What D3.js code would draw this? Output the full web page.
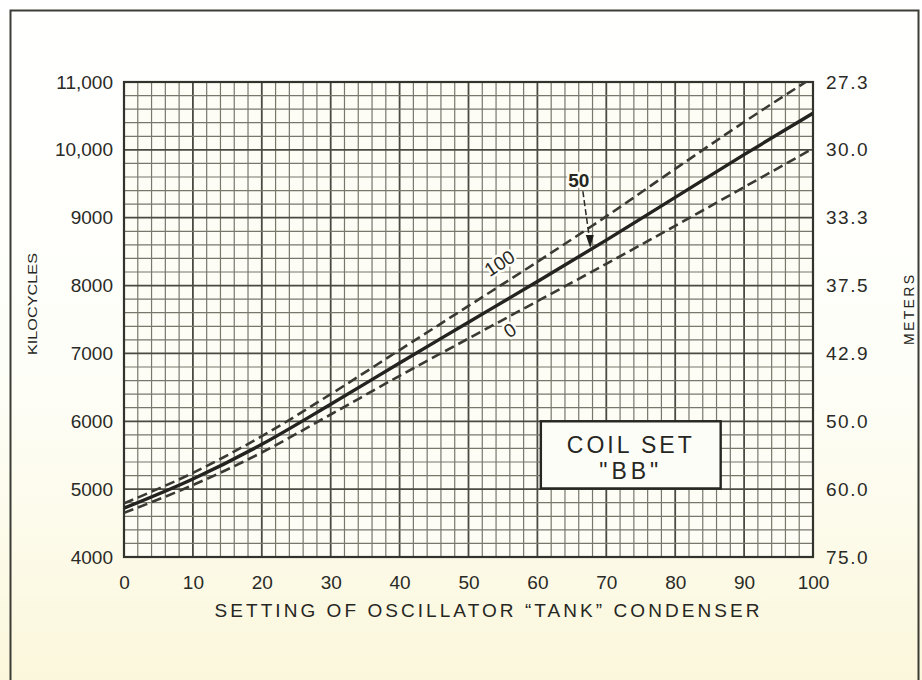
<!DOCTYPE html>
<html>
<head>
<meta charset="utf-8">
<script src="https://cdn.jsdelivr.net/npm/d3@7"></script>
<style>
  body { margin: 0; background: #fdfcf2; }
  text { font-family: "Liberation Sans", Arial, sans-serif; fill: #262622; }
  .halo { paint-order: stroke; stroke: #fdfdf5; stroke-width: 5px; stroke-linejoin: round; }
</style>
</head>
<body>
<svg class="chart"></svg>
<script>
// Width and height
var width = 922, height = 680;

// Data: condenser setting vs. kilocycles
var settings = [0, 10, 20, 30, 40, 50, 60, 70, 80, 90, 100];
var kc50  = [4720, 5150, 5660, 6250, 6860, 7460, 8060, 8670, 9300, 9930, 10540];
var kc100 = [4790, 5240, 5780, 6400, 7050, 7700, 8350, 9020, 9720, 10410, 11070];
var kc0   = [4650, 5060, 5540, 6100, 6670, 7220, 7770, 8320, 8880, 9450, 10020];

// Tick labels
var kcTicks = [4000, 5000, 6000, 7000, 8000, 9000, 10000, 11000];
var kcLabels = ["4000", "5000", "6000", "7000", "8000", "9000", "10,000", "11,000"];
var meterLabels = ["75.0", "60.0", "50.0", "42.9", "37.5", "33.3", "30.0", "27.3"];
var settingTicks = [0, 10, 20, 30, 40, 50, 60, 70, 80, 90, 100];

// Scales
var x = d3.scaleLinear().domain([0, 100]).range([124, 813]);
var y = d3.scaleLinear().domain([4000, 11000]).range([557, 82]);

var svg = d3.select(".chart")
  .attr("width", width)
  .attr("height", height);

// paper background, white at the top going cream at the bottom
var defs = svg.append("defs");
var grad = defs.append("linearGradient")
  .attr("id", "paper")
  .attr("x1", 0).attr("y1", 0).attr("x2", 0).attr("y2", 1);
grad.append("stop").attr("offset", "0%").attr("stop-color", "#ffffff");
grad.append("stop").attr("offset", "55%").attr("stop-color", "#fefef8");
grad.append("stop").attr("offset", "100%").attr("stop-color", "#fbf7dc");

defs.append("clipPath").attr("id", "plotClip")
  .append("rect")
  .attr("x", x(0)).attr("y", y(11000))
  .attr("width", x(100) - x(0)).attr("height", y(4000) - y(11000));

svg.append("rect")
  .attr("width", width).attr("height", height)
  .attr("fill", "url(#paper)");

// outer frame (runs off the bottom)
svg.append("rect")
  .attr("x", 10.5).attr("y", 10.5)
  .attr("width", 908).attr("height", 720)
  .attr("fill", "none")
  .attr("stroke", "#3c3c36")
  .attr("stroke-width", 2);

// plot area
svg.append("rect")
  .attr("x", x(0)).attr("y", y(11000))
  .attr("width", x(100) - x(0)).attr("height", y(4000) - y(11000))
  .attr("fill", "#fdfdf5");

// grid: minor every 2 units / 200 kc, heavier every 10 units / 1000 kc
var grid = svg.append("g");
grid.selectAll(".vline")
  .data(d3.range(0, 101, 2))
  .enter().append("line")
  .attr("x1", d => x(d)).attr("x2", d => x(d))
  .attr("y1", y(4000)).attr("y2", y(11000))
  .attr("stroke", d => d % 10 === 0 ? "#4a4a42" : "#77776c")
  .attr("stroke-width", d => d % 10 === 0 ? 1.8 : 1.2);

grid.selectAll(".hline")
  .data(d3.range(4000, 11001, 200))
  .enter().append("line")
  .attr("x1", x(0)).attr("x2", x(100))
  .attr("y1", d => y(d)).attr("y2", d => y(d))
  .attr("stroke", d => d % 1000 === 0 ? "#4a4a42" : "#77776c")
  .attr("stroke-width", d => d % 1000 === 0 ? 1.8 : 1.2);

svg.append("rect")
  .attr("x", x(0)).attr("y", y(11000))
  .attr("width", x(100) - x(0)).attr("height", y(4000) - y(11000))
  .attr("fill", "none")
  .attr("stroke", "#33332e")
  .attr("stroke-width", 2.2);

// Curves
var line = d3.line()
  .x((d, i) => x(settings[i]))
  .y(d => y(d))
  .curve(d3.curveMonotoneX);

var curves = svg.append("g").attr("clip-path", "url(#plotClip)");
curves.append("path").datum(kc100)
  .attr("d", line).attr("fill", "none")
  .attr("stroke", "#3a3a34").attr("stroke-width", 2.6)
  .attr("stroke-dasharray", "10,5");
curves.append("path").datum(kc0)
  .attr("d", line).attr("fill", "none")
  .attr("stroke", "#3a3a34").attr("stroke-width", 2.6)
  .attr("stroke-dasharray", "10,5");
curves.append("path").datum(kc50)
  .attr("d", line).attr("fill", "none")
  .attr("stroke", "#23231f").attr("stroke-width", 3.4);

// Axes (labels only)
var left = svg.append("g")
  .attr("transform", "translate(" + x(0) + ",0)")
  .call(d3.axisLeft(y).tickValues(kcTicks).tickSize(0).tickPadding(11)
    .tickFormat((d, i) => kcLabels[i]));
var right = svg.append("g")
  .attr("transform", "translate(" + x(100) + ",0)")
  .call(d3.axisRight(y).tickValues(kcTicks).tickSize(0).tickPadding(13)
    .tickFormat((d, i) => meterLabels[i]));
var bottom = svg.append("g")
  .attr("transform", "translate(0," + y(4000) + ")")
  .call(d3.axisBottom(x).tickValues(settingTicks).tickSize(0).tickPadding(19));

[left, right, bottom].forEach(function (g) {
  g.select(".domain").remove();
  g.selectAll("text")
    .style("font-family", "'Liberation Sans', Arial, sans-serif")
    .style("font-size", "19px")
    .style("fill", "#2a2a26");
});
right.selectAll("text").style("letter-spacing", "1.5px");

// axis titles
svg.append("text")
  .attr("x", 487).attr("y", 617)
  .attr("text-anchor", "middle")
  .attr("textLength", 545)
  .attr("lengthAdjust", "spacing")
  .style("font-size", "19px")
  .text("SETTING OF OSCILLATOR \u201CTANK\u201D CONDENSER");

svg.append("text")
  .attr("transform", "translate(37,304) rotate(-90)")
  .attr("text-anchor", "middle")
  .attr("textLength", 102)
  .attr("lengthAdjust", "spacingAndGlyphs")
  .style("font-size", "13px")
  .text("KILOCYCLES");

svg.append("text")
  .attr("transform", "translate(914,310) rotate(-90)")
  .attr("text-anchor", "middle")
  .attr("textLength", 70)
  .attr("lengthAdjust", "spacing")
  .style("font-size", "14px")
  .text("METERS");

// curve labels
var angle = -Math.atan2(y(kc100[5]) - y(kc100[6]), x(60) - x(50)) * 180 / Math.PI;
svg.append("text")
  .attr("class", "halo")
  .attr("transform", "translate(" + x(54.5) + "," + y(8330) + ") rotate(" + angle + ")")
  .attr("text-anchor", "middle")
  .attr("dy", "0.35em")
  .style("font-size", "19px")
  .text("100");
svg.append("text")
  .attr("class", "halo")
  .attr("transform", "translate(" + x(56) + "," + y(7340) + ") rotate(" + angle + ")")
  .attr("text-anchor", "middle")
  .attr("dy", "0.35em")
  .style("font-size", "19px")
  .text("0");
svg.append("text")
  .attr("class", "halo")
  .attr("x", x(66)).attr("y", y(9450))
  .attr("text-anchor", "middle")
  .style("font-size", "19px")
  .style("font-weight", "bold")
  .text("50");

// arrow pointing at the 50 curve
var tipV = 67.6, tipKc = 8570;
svg.append("line")
  .attr("x1", x(66.6)).attr("y1", y(9390))
  .attr("x2", x(tipV)).attr("y2", y(tipKc) - 6)
  .attr("stroke", "#2a2a26").attr("stroke-width", 1.5)
  .attr("stroke-dasharray", "6,3");
svg.append("path")
  .attr("d", "M" + (x(tipV) - 4) + "," + (y(tipKc) - 12) +
             "L" + (x(tipV) + 4) + "," + (y(tipKc) - 12) +
             "L" + (x(tipV) + 0.5) + "," + (y(tipKc) + 1) + "Z")
  .attr("fill", "#1e1e1a");

// Coil set box
var box = svg.append("g");
box.append("rect")
  .attr("x", x(60.5)).attr("y", y(6000))
  .attr("width", x(86.6) - x(60.5)).attr("height", y(5010) - y(6000))
  .attr("fill", "#fdfdf8")
  .attr("stroke", "#262622")
  .attr("stroke-width", 2.4);
box.append("text")
  .attr("x", (x(60.5) + x(86.6)) / 2).attr("y", y(5540))
  .attr("text-anchor", "middle")
  .style("font-size", "23px")
  .style("letter-spacing", "3px")
  .text("COIL SET");
box.append("text")
  .attr("x", (x(60.5) + x(86.6)) / 2).attr("y", y(5150))
  .attr("text-anchor", "middle")
  .style("font-size", "23px")
  .style("letter-spacing", "4px")
  .text("\"BB\"");
</script>
</body>
</html>
